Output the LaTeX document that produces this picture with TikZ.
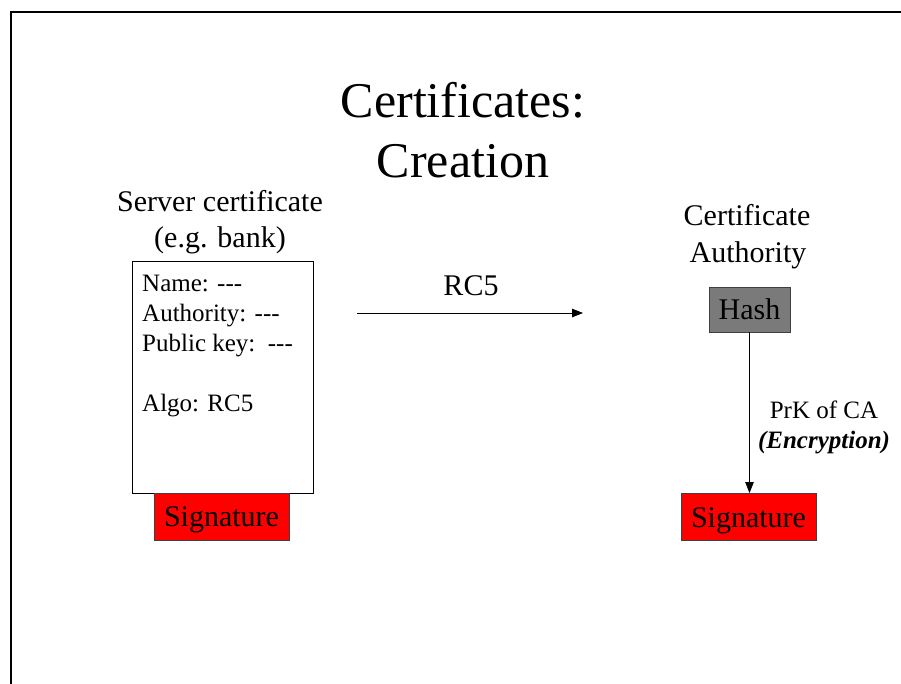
\documentclass[tikz,border=0pt]{standalone}
\usepackage{fontspec}
\setmainfont{Liberation Serif}
\usetikzlibrary{arrows.meta}
\definecolor{edgegray}{HTML}{404040}
\definecolor{hashgray}{HTML}{7A7A7A}
\begin{document}
\begin{tikzpicture}[x=1pt,y=-1pt,
  txt/.style={inner sep=0pt, anchor=base},
  ltxt/.style={inner sep=0pt, anchor=base west, font=\fontsize{25}{30}\selectfont},
  bigtxt/.style={txt, font=\fontsize{50}{60}\selectfont},
  midtxt/.style={txt, font=\fontsize{30}{36}\selectfont},
  smalltxt/.style={txt, font=\fontsize{25}{30}\selectfont},
  redbox/.style={draw=edgegray, fill=red, line width=0.8pt, inner sep=0pt,
    minimum width=135pt, minimum height=47pt, text height=21pt, text depth=1pt,
    font=\fontsize{30}{36}\selectfont},
  arr/.style={-{Triangle[length=11pt,width=8.5pt]}, line width=0.8pt}]
\useasboundingbox (0,0) rectangle (901,684);
\draw[line width=2pt] (11,684) -- (11,12) -- (901,12);

% title
\node[bigtxt] (t1) at (463,118) {Certificates:};
\node[bigtxt] (t2) at (463,178) {Creation};

% left side
\node[midtxt] (s1) at (220,212) {Server certificate};
\node[midtxt] (s2) at (220,248) {(e.g. bank)};
\node[draw, line width=0.8pt, minimum width=181pt, minimum height=232pt, inner sep=0pt] (cert) at (222.5,377) {};
\node[ltxt] (l1) at (142,291) {Name: -{}-{}-};
\node[ltxt] (l2) at (142,321) {Authority: -{}-{}-};
\node[ltxt] (l3) at (142,351) {Public key:\ \ -{}-{}-};
\node[ltxt] (l4) at (142,411) {Algo: RC5};
\node[redbox] (sigL) at (221.5,516.5) {Signature};

% middle arrow
\node[midtxt] (rc5) at (471,295) {RC5};
\coordinate (a1) at (357,313);
\coordinate (a2) at (583,313);
\draw[arr] (a1) -- (a2);

% right side
\node[midtxt] (c1) at (747,226) {Certificate};
\node[midtxt] (c2) at (748,263) {Authority};
\node[draw=edgegray, fill=hashgray, line width=0.8pt, inner sep=0pt,
  minimum width=81pt, minimum height=45pt, font=\fontsize{30}{36}\selectfont] (hash) at (749.5,309.5) {Hash};
\node[redbox] (sigR) at (748.5,517) {Signature};
\draw[arr] (hash.south) -- (hash.south |- sigR.north);
\node[smalltxt] (p1) at (824,418) {PrK of CA};
\node[smalltxt] (p2) at (824,448) {\bfseries\itshape (Encryption)};
\end{tikzpicture}
\end{document}
